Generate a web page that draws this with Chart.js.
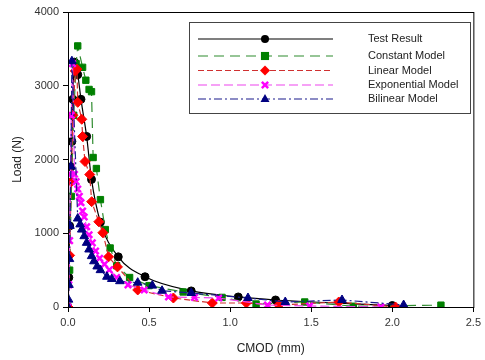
<!DOCTYPE html>
<html>
<head>
<meta charset="utf-8">
<script src="https://cdn.jsdelivr.net/npm/chart.js@4.4.1/dist/chart.umd.min.js"></script>
<style>
html,body{margin:0;padding:0;background:#fff;}
#wrap{width:485px;height:360px;}
</style>
</head>
<body>
<div id="wrap"><canvas id="c" width="485" height="360"></canvas></div>
<script>
const seriesNames = ["Test Result", "Constant Model", "Linear Model", "Exponential Model", "Bilinear Model"];
const xTicks = [0, 0.5, 1.0, 1.5, 2.0, 2.5];
const yTicks = [0, 1000, 2000, 3000, 4000];

const testX = [0, 0.005, 0.01, 0.018, 0.024, 0.03, 0.04, 0.06, 0.08, 0.115, 0.145, 0.2, 0.31, 0.475, 0.76, 1.05, 1.28, 2.0];
const testY = [0, 400, 1100, 1900, 2245, 2816, 3320, 3150, 2816, 2313, 1730, 1150, 680, 410, 218, 136, 95, 20];

const constX = [0, 0.01, 0.02, 0.035, 0.05, 0.06, 0.09, 0.11, 0.13, 0.145, 0.155, 0.175, 0.2, 0.23, 0.26, 0.3, 0.38, 0.5, 0.71, 0.95, 1.16, 1.46, 1.76, 2.3];
const constY = [0, 500, 1500, 2600, 3300, 3540, 3250, 3075, 2950, 2920, 2027, 1878, 1456, 1050, 800, 560, 400, 290, 204, 130, 40, 68, 10, 25];

const linX = [0, 0.01, 0.02, 0.03, 0.045, 0.055, 0.06, 0.085, 0.09, 0.105, 0.134, 0.146, 0.19, 0.215, 0.25, 0.305, 0.43, 0.65, 0.89, 1.1, 1.3, 1.67, 2.02];
const linY = [0, 700, 1700, 2600, 3200, 3225, 2775, 2545, 2313, 1973, 1796, 1428, 1156, 1007, 680, 544, 231, 122, 54, 54, 27, 68, 0];

const expX = [0, 0.005, 0.01, 0.015, 0.02, 0.028, 0.04, 0.05, 0.06, 0.07, 0.08, 0.09, 0.1, 0.115, 0.13, 0.15, 0.17, 0.195, 0.225, 0.255, 0.3, 0.37, 0.47, 0.62, 0.78, 0.93, 1.23, 1.49, 1.93];
const expY = [0, 300, 900, 1800, 2600, 3300, 1800, 1700, 1600, 1500, 1415, 1300, 1220, 1088, 980, 870, 760, 660, 580, 503, 400, 300, 231, 136, 130, 122, 27, 14, 0];

const biX = [0, 0.003, 0.006, 0.009, 0.012, 0.018, 0.024, 0.06, 0.075, 0.085, 0.1, 0.115, 0.13, 0.146, 0.16, 0.18, 0.2, 0.24, 0.27, 0.32, 0.43, 0.52, 0.58, 0.76, 1.11, 1.34, 1.69, 2.07];
const biY = [0, 100, 300, 650, 1100, 1905, 3333, 1200, 1120, 1050, 960, 870, 780, 690, 620, 550, 500, 410, 380, 350, 330, 290, 220, 190, 122, 68, 95, 27];

function pts(xs, ys){ return xs.map((x,i)=>({x:x, y:ys[i]})); }

const styles = [
  {color:'#000000', fill:'#000000', dash:[], shape:'circle', r:4},
  {color:'#2e8b2e', fill:'#008000', dash:[10,6], shape:'rect', r:4.5},
  {color:'#d03030', fill:'#ff0000', dash:[6,3], shape:'rectRot', r:5},
  {color:'#ee44ee', fill:'#ff00ff', dash:[9,4], shape:'crossRot', r:4.5},
  {color:'#1a1a8c', fill:'#000080', dash:[8,3,2,3], shape:'triangle', r:5}
];
const sets = [pts(testX,testY), pts(constX,constY), pts(linX,linY), pts(expX,expY), pts(biX,biY)];

const datasets = sets.map((d,i)=>({
  label: seriesNames[i],
  data: d,
  showLine: true,
  borderColor: styles[i].color,
  borderWidth: 1.2,
  borderDash: styles[i].dash,
  backgroundColor: styles[i].fill,
  pointStyle: styles[i].shape,
  pointRadius: styles[i].r,
  pointBorderColor: styles[i].fill,
  pointBackgroundColor: styles[i].fill,
  pointBorderWidth: styles[i].shape === 'crossRot' ? 2.5 : 1,
  tension: i === 0 ? 0.4 : 0,
  cubicInterpolationMode: i === 0 ? 'monotone' : 'default',
  order: 5 - i
}));

function drawMarker(ctx, shape, x, y, r, col){
  ctx.save();
  ctx.fillStyle = col; ctx.strokeStyle = col; ctx.setLineDash([]);
  ctx.beginPath();
  if (shape === 'circle') { ctx.arc(x,y,r,0,Math.PI*2); ctx.fill(); }
  else if (shape === 'rect') { ctx.fillRect(x-r*0.9,y-r*0.9,r*1.8,r*1.8); }
  else if (shape === 'rectRot') { ctx.moveTo(x,y-r); ctx.lineTo(x+r,y); ctx.lineTo(x,y+r); ctx.lineTo(x-r,y); ctx.closePath(); ctx.fill(); }
  else if (shape === 'crossRot') { ctx.lineWidth=2.5; const a=r*0.7; ctx.moveTo(x-a,y-a); ctx.lineTo(x+a,y+a); ctx.moveTo(x+a,y-a); ctx.lineTo(x-a,y+a); ctx.stroke(); }
  else if (shape === 'triangle') { ctx.moveTo(x,y-r); ctx.lineTo(x+r*0.9,y+r*0.6); ctx.lineTo(x-r*0.9,y+r*0.6); ctx.closePath(); ctx.fill(); }
  ctx.restore();
}

const framePlugin = {
  id: 'frame',
  afterDraw(chart){
    const ctx = chart.ctx, a = chart.chartArea;
    ctx.save();
    ctx.strokeStyle = '#000'; ctx.lineWidth = 1; ctx.setLineDash([]);
    ctx.strokeRect(a.left+0.5, a.top+0.5, a.right-a.left, a.bottom-a.top);
    const bx=189.5, by=22.5, bw=281, bh=91;
    ctx.fillStyle='#fff'; ctx.fillRect(bx,by,bw,bh);
    ctx.strokeStyle='#444'; ctx.strokeRect(bx,by,bw,bh);
    const rows=[39,56,70.5,85,99];
    ctx.font = '11px "Liberation Sans", Arial, sans-serif';
    ctx.textBaseline='middle'; ctx.textAlign='left';
    for (let i=0;i<5;i++){
      const y=rows[i], s=styles[i];
      ctx.strokeStyle=s.color; ctx.lineWidth=1.2; ctx.setLineDash(s.dash);
      ctx.beginPath(); ctx.moveTo(198,y); ctx.lineTo(333,y); ctx.stroke();
      drawMarker(ctx, s.shape, 265, y, s.r, s.fill);
      ctx.fillStyle='#222';
      ctx.fillText(seriesNames[i], 368, y);
    }
    ctx.restore();
  }
};

const FONT = '"Liberation Sans", Arial, sans-serif';
new Chart(document.getElementById('c'), {
  type: 'scatter',
  data: { datasets },
  options: {
    responsive: false,
    animation: false,
    layout: { padding: { left: 6, top: 12, right: 7, bottom: 0 } },
    plugins: { legend: { display: false }, tooltip: { enabled: false } },
    scales: {
      x: {
        type: 'linear', min: 0, max: 2.5,
        afterFit(s){ s.height = 53; },
        afterBuildTicks(s){ s.ticks = xTicks.map(v=>({value:v})); },
        ticks: { color:'#333', font:{family:FONT, size:11}, padding: 4,
                 callback: v => Number(v).toFixed(1) },
        grid: { drawOnChartArea:false, drawTicks:true, tickLength:5, color:'#000' },
        border: { display:true, color:'#000' },
        title: { display:true, text:'CMOD (mm)', color:'#222', font:{family:FONT, size:12}, padding:{top:6} }
      },
      y: {
        type: 'linear', min: 0, max: 4000,
        afterFit(s){ s.width = 62; },
        afterBuildTicks(s){ s.ticks = yTicks.map(v=>({value:v})); },
        ticks: { color:'#333', font:{family:FONT, size:11}, padding: 4, callback: v => String(v) },
        grid: { drawOnChartArea:false, drawTicks:true, tickLength:5, color:'#000' },
        border: { display:true, color:'#000' },
        title: { display:true, text:'Load (N)', color:'#222', font:{family:FONT, size:12}, padding:{bottom:4} }
      }
    }
  },
  plugins: [framePlugin]
});
</script>
</body>
</html>
